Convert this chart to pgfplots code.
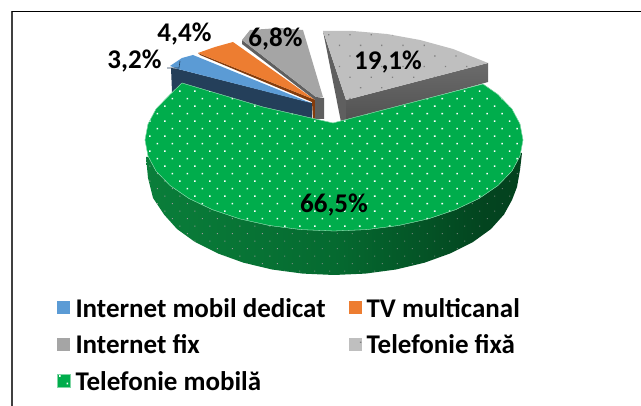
\documentclass[border=0pt]{standalone}
\usepackage{pgfplots}
\usepackage{pgfplotstable}
\pgfplotsset{compat=1.18}
\usepackage{fontspec}
\setmainfont{Carlito}
\usetikzlibrary{patterns.meta}

\definecolor{cblue}{HTML}{5B9BD5}
\definecolor{cblued}{HTML}{243F5A}
\definecolor{corange}{HTML}{ED7D31}
\definecolor{cbrown}{HTML}{843C0C}
\definecolor{cgray}{HTML}{A5A5A5}
\definecolor{cgrayd}{HTML}{5F5F5F}
\definecolor{clight}{HTML}{BFBFBF}
\definecolor{cgreen}{HTML}{00AD4C}
\definecolor{wall0}{HTML}{0F8840}
\definecolor{wall1}{HTML}{0A7E3A}
\definecolor{wall2}{HTML}{056A30}
\definecolor{wall3}{HTML}{03441F}
\definecolor{wall4}{HTML}{023A1A}

\pgfdeclarehorizontalshading{greenwall}{100bp}{
	color(0bp)=(wall0);
	color(25bp)=(wall1);
	color(50bp)=(wall2);
	color(70bp)=(wall3);
	color(100bp)=(wall4)
}

% outline of the green slice's side wall, in pixels
\pgfplotstableread{
x y
146 157
148 178
153 198
164 214.5
177 229
195 242
218 253.5
243.5 262.7
272 269.5
302.6 273.6
334 275
365.4 273.6
396 269.5
424.5 262.7
450 253.5
473 242
491 229
504 214.5
512 200
517 187
520 170
522 153
334 140
}\greenwall

\begin{document}
\begin{tikzpicture}
	\useasboundingbox (0,0) rectangle (641pt,406pt);
	\begin{axis}[
			hide axis,
			scale only axis,
			width=641pt,
			height=406pt,
			at={(0,0)},
			anchor=south west,
			xmin=0, xmax=641,
			ymin=0, ymax=406,
			y dir=reverse,
			clip=false,
			font=\fontsize{27}{29}\selectfont\bfseries,
			legend columns=2,
			legend style={
				at={(axis cs:54,294)},
				anchor=north west,
				draw=none,
				fill=none,
				row sep=12pt,
				/tikz/every odd column/.append style={column sep=3pt},
				/tikz/every even column/.append style={column sep=21pt},
			},
			legend cell align=left,
			legend image code/.code={
				\path[#1] (0pt,-6pt) rectangle (13pt,7pt);
			},
		]

		% frame
		\addplot [forget plot, black!75, line width=1.8pt] coordinates {(12,406) (12,11.5)};
		\addplot [forget plot, black, line width=1.3pt] coordinates {(11.5,11.5) (641,11.5)};

		% side walls of the back slices
		\addplot [forget plot, fill=cblued, draw=none] coordinates {(171,68) (178,69) (312,103) (312,122) (172,92)} --cycle;
		\addplot [forget plot, fill=cbrown, draw=none] coordinates {(198,53) (313,99) (316,100) (316,119) (313,119) (312,102) (200,55)} --cycle;
		\addplot [forget plot, fill=cgrayd, draw=none] coordinates {(242,40) (316,97) (324,98) (324,119) (315,119) (315,100) (242,44)} --cycle;
		\addplot [forget plot, fill=cgrayd, draw=none] coordinates {(323,31) (346,100) (346,121) (341,122)} --cycle;
		\addplot [forget plot, top color=black!58, bottom color=black!68, draw=none] coordinates {(346,100) (488,63) (488,82) (346,121)} --cycle;

		% top faces
		\addplot [fill=cblue, draw=none] coordinates {
			(170,66) (182,58) (193,55) (311,103) (178,69)
		} --cycle;
		\addlegendentry{Internet mobil dedicat}

		\addplot [fill=corange, draw=none] coordinates {
			(198,53) (215,47) (233,42) (315,100) (313,99)
		} --cycle;
		\addlegendentry{TV multicanal}

		\addplot [fill=cgray, draw=none] coordinates {
			(242,40) (250,30) (280,28) (303,30) (323,97) (316,97)
		} --cycle;
		\addlegendentry{Internet fix}

		\addplot [fill=clight, draw=none, postaction={pattern={Dots[distance=15pt, angle=45, radius=0.9pt]}, pattern color=black!50}] coordinates {
			(323,31) (353,31) (387,34) (420,40) (453,49) (488,63) (346,100)
		} --cycle;
		\addlegendentry{Telefonie fix\u{a}}

		% green wall, shading first and its dots on top
		\addplot [forget plot, shading=greenwall, draw=none] table {\greenwall} --cycle;
		\addplot [forget plot, draw=none, pattern={Dots[distance=10.6pt, angle=45, radius=0.6pt]}, pattern color=black!40] table {\greenwall} --cycle;

		% green top, front edge a thin pale line
		\addplot [fill=cgreen, draw=cgreen!50!white, line width=0.3pt, postaction={pattern={Dots[distance=10.6pt, angle=45, radius=1.1pt]}, pattern color=white}] coordinates {
			(483,84) (498,94.5) (512,109) (520,124) (523,140) (520,156) (512,171) (498,185.5)
			(479,198.5) (455.5,209.7) (428.5,218.8) (398.6,225.5) (366.8,229.6) (334,231)
			(301,229.6) (269.4,225.5) (239.5,218.8) (212.5,209.7) (189,198.5) (170,185.5)
			(156,171) (148,156) (145,140) (148,124) (156,109) (170,94.5) (182,83) (263,107) (333,123)
		} --cycle;
		\addlegendentry{Telefonie mobil\u{a}}

		% leader of the 3,2% label
		\addplot [forget plot, cblued, line width=0.6pt] coordinates {(167,68) (179,68) (180,61)};

		\node at (axis cs:134.5,61) {3,2\%};
		\node at (axis cs:184.5,34) {4,4\%};
		\node at (axis cs:275.5,39) {6,8\%};
		\node at (axis cs:388,62) {19,1\%};
		\node at (axis cs:334,205) {66,5\%};
	\end{axis}
\end{tikzpicture}
\end{document}
